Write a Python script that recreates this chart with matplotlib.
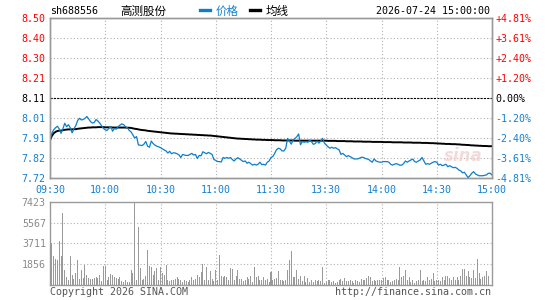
import matplotlib
matplotlib.use('Agg')
import matplotlib.pyplot as plt
import numpy as np

# ---------------- data ----------------
stock_code = "sh688556"
stock_name = "高测股份"
timestamp = "2026-07-24 15:00:00"
prev_close = 8.11
y_low, y_high = 7.72, 8.50
vol_max = 7423

time_labels = ["09:30", "10:00", "10:30", "11:00", "11:30", "13:30", "14:00", "14:30", "15:00"]
price_labels = ["8.50", "8.40", "8.30", "8.21", "8.11", "8.01", "7.91", "7.82", "7.72"]
pct_labels = ["+4.81%", "+3.61%", "+2.40%", "+1.20%", "0.00%", "-1.20%", "-2.40%", "-3.61%", "-4.81%"]
vol_labels = ["7423", "5567", "3711", "1856"]

price = [
    7.905, 7.938, 7.955, 7.965, 7.972, 7.960, 7.938, 7.960, 7.987, 7.970,
    7.980, 7.965, 7.940, 7.960, 7.975, 8.000, 8.011, 8.003, 8.005, 8.011,
    8.020, 8.008, 7.995, 7.988, 7.990, 8.005, 7.998, 7.988, 7.975, 7.962,
    7.955, 7.952, 7.962, 7.970, 7.948, 7.962, 7.958, 7.970, 7.978, 7.984,
    7.980, 7.970, 7.965, 7.952, 7.945, 7.930, 7.915, 7.922, 7.881, 7.880,
    7.878, 7.885, 7.898, 7.875, 7.870, 7.900, 7.888, 7.880, 7.875, 7.872,
    7.868, 7.862, 7.857, 7.852, 7.842, 7.850, 7.838, 7.843, 7.842, 7.838,
    7.833, 7.820, 7.835, 7.832, 7.830, 7.830, 7.835, 7.840, 7.832, 7.835,
    7.815, 7.830, 7.828, 7.848, 7.843, 7.838, 7.845, 7.840, 7.835, 7.810,
    7.806, 7.800, 7.800, 7.798, 7.820, 7.816, 7.820, 7.816, 7.820, 7.810,
    7.803, 7.813, 7.819, 7.813, 7.806, 7.800, 7.803, 7.792, 7.797, 7.790,
    7.783, 7.787, 7.783, 7.787, 7.797, 7.785, 7.787, 7.783, 7.797, 7.803,
    7.820, 7.825, 7.840, 7.858, 7.865, 7.862, 7.852, 7.852, 7.865, 7.913,
    7.900, 7.885, 7.905, 7.913, 7.921, 7.935, 7.882, 7.898, 7.894, 7.897,
    7.894, 7.905, 7.897, 7.884, 7.888, 7.900, 7.890, 7.900, 7.913, 7.890,
    7.881, 7.872, 7.865, 7.870, 7.865, 7.868, 7.862, 7.857, 7.835, 7.840,
    7.832, 7.824, 7.829, 7.824, 7.819, 7.813, 7.813, 7.813, 7.816, 7.821,
    7.821, 7.816, 7.813, 7.811, 7.803, 7.797, 7.813, 7.803, 7.800, 7.797,
    7.797, 7.800, 7.800, 7.800, 7.797, 7.787, 7.783, 7.787, 7.790, 7.787,
    7.782, 7.783, 7.790, 7.803, 7.797, 7.803, 7.808, 7.812, 7.800, 7.797,
    7.803, 7.808, 7.820, 7.803, 7.787, 7.790, 7.787, 7.792, 7.797, 7.800,
    7.797, 7.783, 7.787, 7.780, 7.783, 7.787, 7.775, 7.780, 7.775, 7.770,
    7.772, 7.767, 7.759, 7.755, 7.745, 7.748, 7.735, 7.722, 7.731, 7.743,
    7.751, 7.740, 7.735, 7.731, 7.731, 7.731, 7.733, 7.735, 7.743, 7.743,
    7.735,
]

avg_price = [
    7.905, 7.925, 7.938, 7.945, 7.949, 7.951, 7.951, 7.953, 7.955, 7.956,
    7.957, 7.957, 7.957, 7.958, 7.958, 7.960, 7.961, 7.962, 7.963, 7.964,
    7.965, 7.966, 7.966, 7.967, 7.967, 7.967, 7.968, 7.968, 7.968, 7.968,
    7.967, 7.967, 7.967, 7.967, 7.966, 7.966, 7.966, 7.966, 7.966, 7.966,
    7.966, 7.966, 7.965, 7.965, 7.964, 7.962, 7.960, 7.959, 7.957, 7.955,
    7.954, 7.953, 7.952, 7.950, 7.949, 7.948, 7.947, 7.946, 7.945, 7.944,
    7.943, 7.942, 7.941, 7.940, 7.939, 7.938, 7.937, 7.937, 7.936, 7.936,
    7.935, 7.935, 7.934, 7.934, 7.933, 7.933, 7.932, 7.932, 7.931, 7.931,
    7.930, 7.930, 7.929, 7.929, 7.928, 7.928, 7.927, 7.927, 7.926, 7.925,
    7.924, 7.923, 7.922, 7.921, 7.920, 7.919, 7.918, 7.917, 7.916, 7.915,
    7.914, 7.913, 7.912, 7.912, 7.911, 7.911, 7.910, 7.910, 7.909, 7.909,
    7.908, 7.908, 7.907, 7.907, 7.907, 7.906, 7.906, 7.906, 7.905, 7.905,
    7.905, 7.905, 7.904, 7.904, 7.904, 7.904, 7.903, 7.903, 7.903, 7.903,
    7.903, 7.903, 7.903, 7.902, 7.902, 7.902, 7.902, 7.902, 7.902, 7.902,
    7.902, 7.902, 7.902, 7.902, 7.902, 7.902, 7.902, 7.902, 7.902, 7.902,
    7.902, 7.901, 7.901, 7.901, 7.901, 7.901, 7.900, 7.900, 7.900, 7.900,
    7.900, 7.899, 7.899, 7.899, 7.899, 7.898, 7.898, 7.898, 7.898, 7.898,
    7.897, 7.897, 7.897, 7.897, 7.897, 7.896, 7.896, 7.896, 7.896, 7.896,
    7.896, 7.895, 7.895, 7.895, 7.895, 7.895, 7.894, 7.894, 7.894, 7.894,
    7.894, 7.894, 7.893, 7.893, 7.893, 7.893, 7.893, 7.892, 7.892, 7.892,
    7.892, 7.892, 7.891, 7.891, 7.891, 7.891, 7.890, 7.890, 7.890, 7.889,
    7.889, 7.888, 7.888, 7.887, 7.887, 7.886, 7.886, 7.886, 7.885, 7.885,
    7.885, 7.884, 7.884, 7.883, 7.882, 7.882, 7.881, 7.881, 7.880, 7.879,
    7.879, 7.878, 7.878, 7.877, 7.877, 7.876, 7.876, 7.876, 7.875, 7.875,
    7.875,
]

volume = [
    710, 3726, 2600, 2336, 2188, 3933, 2543, 6447, 1360, 710,
    473, 2600, 917, 532, 1064, 2247, 532, 1360, 621, 1804,
    917, 621, 532, 532, 621, 710, 621, 917, 380, 1715,
    1715, 473, 710, 1005, 917, 710, 621, 532, 710, 325,
    296, 414, 250, 300, 1300, 1064, 7423, 414, 5205, 1537,
    473, 532, 828, 3075, 1715, 1596, 917, 1212, 1478, 414,
    1596, 1064, 917, 1804, 414, 325, 473, 414, 532, 710,
    532, 473, 300, 414, 325, 300, 414, 710, 473, 532,
    917, 710, 1123, 1893, 414, 1596, 473, 1212, 532, 380,
    1301, 414, 2691, 828, 710, 769, 710, 473, 1478, 1419,
    473, 828, 1360, 532, 532, 325, 473, 710, 532, 769,
    300, 1596, 710, 828, 473, 414, 710, 414, 532, 300,
    1123, 414, 532, 621, 1212, 414, 473, 325, 414, 1360,
    2247, 3046, 680, 680, 1360, 532, 828, 325, 828, 237,
    621, 237, 414, 237, 473, 325, 414, 325, 1597, 177,
    237, 473, 414, 237, 325, 177, 237, 473, 532, 325,
    621, 325, 325, 473, 325, 177, 414, 325, 237, 532,
    414, 414, 621, 769, 710, 325, 414, 325, 414, 414,
    414, 621, 710, 414, 473, 237, 325, 414, 532, 414,
    1597, 710, 828, 1301, 414, 710, 237, 414, 177, 325,
    414, 1360, 325, 473, 325, 710, 414, 532, 1065, 325,
    414, 473, 325, 710, 414, 769, 769, 621, 414, 710,
    414, 710, 414, 828, 1420, 1420, 828, 1212, 710, 621,
    1301, 621, 2307, 1065, 532, 710, 769, 1242, 769, 0,
    0,
]

# ---------------- style ----------------
W, H = 545, 300
BLUE = '#0a7fcc'
BLUE_TXT = '#1580d0'
RED = '#ff0000'
GRAY = '#9a9a9a'
GRID = '#b0b0b0'
MONO = ['DejaVu Sans Mono']
CJK = ['Noto Sans CJK SC', 'DejaVu Sans']
FS = 7.2

fig = plt.figure(figsize=(W / 100, H / 100), dpi=100)
fig.patch.set_facecolor('white')


def fx(x):
    return x / W


def fy(y):
    return 1 - y / H


left, right = 50, 492
ax = fig.add_axes([fx(left), fy(178), fx(right) - fx(left), fy(18) - fy(178)])
axv = fig.add_axes([fx(left), fy(285), fx(right) - fx(left), fy(201.7) - fy(285)])

minutes = np.arange(len(price))
n_min = len(price) - 1
xticks = np.linspace(0, n_min, len(time_labels))
pticks = np.linspace(y_high, y_low, len(price_labels))

# --- main price panel
for t in pticks[1:-1]:
    if abs(t - prev_close) < 1e-6:
        ax.axhline(t, color='black', lw=0.8, ls=(0, (2, 1)), zorder=1)
    else:
        ax.axhline(t, color=GRID, lw=0.8, ls=(0, (1, 2)), zorder=1)
for t in xticks[1:-1]:
    ax.axvline(t, color=GRID, lw=0.8, ls=(0, (1, 2)), zorder=1)

ax.plot(minutes, avg_price, color='black', lw=1.4, zorder=3)
ax.plot(minutes, price, color=BLUE, lw=0.9, zorder=4)
ax.set_xlim(0, n_min)
ax.set_ylim(y_low, y_high)

# faint watermark (axes-fraction position)
ax.text(0.936, 0.14, 'sina', transform=ax.transAxes, fontsize=12, fontweight='bold',
        fontstyle='italic', color='#f0cccc', alpha=0.7, ha='center', va='center', zorder=2)

ax.set_xticks(xticks)
ax.set_xticklabels(time_labels, family=MONO, fontsize=FS, color=BLUE_TXT)
ax.set_yticks(pticks)
ax.set_yticklabels(price_labels, family=MONO, fontsize=FS)
ax.tick_params(axis='both', length=0)
ax.tick_params(axis='x', pad=5)
ax.tick_params(axis='y', pad=3)
lab_colors = [RED] * 4 + ['black'] + [BLUE_TXT] * 4
for lab, c in zip(ax.get_yticklabels(), lab_colors):
    lab.set_color(c)

ax2 = ax.twinx()
ax2.set_ylim(y_low, y_high)
ax2.set_yticks(pticks)
ax2.set_yticklabels(pct_labels, family=MONO, fontsize=FS)
ax2.tick_params(axis='y', length=0, pad=2.5)
for lab, c in zip(ax2.get_yticklabels(), lab_colors):
    lab.set_color(c)

for a in (ax, ax2):
    for s in a.spines.values():
        s.set_color(GRAY)
        s.set_linewidth(1.0)

# --- volume panel
vticks = np.linspace(vol_max, 0, len(vol_labels) + 1)
for t in vticks[1:-1]:
    axv.axhline(t, color=GRID, lw=0.8, ls=(0, (1, 2)), zorder=1)
for t in xticks[1:-1]:
    axv.axvline(t, color=GRID, lw=0.8, ls=(0, (1, 2)), zorder=1)
axv.bar(minutes, volume, width=0.55, color=GRAY, linewidth=0, zorder=2)
axv.set_xlim(0, n_min)
axv.set_ylim(0, vol_max)
axv.set_xticks([])
axv.set_yticks(vticks[:-1])
axv.set_yticklabels(vol_labels, family=MONO, fontsize=FS, color='#8a8a8a')
axv.tick_params(axis='y', length=0, pad=3)
for s in axv.spines.values():
    s.set_color(GRAY)
    s.set_linewidth(1.0)

# --- header
fig.text(fx(50), fy(11.5), stock_code, family=MONO, fontsize=FS, color='black', va='center', ha='left')
fig.text(fx(120), fy(11), stock_name, family=CJK, fontsize=8.3, color='black', va='center', ha='left')
fig.add_artist(plt.Line2D([fx(200), fx(210)], [fy(9.8), fy(9.8)], color=BLUE, lw=2.4))
fig.text(fx(216), fy(11), '价格', family=CJK, fontsize=8.3, color=BLUE_TXT, va='center', ha='left')
fig.add_artist(plt.Line2D([fx(250), fx(260)], [fy(9.8), fy(9.8)], color='black', lw=2.4))
fig.text(fx(266), fy(11), '均线', family=CJK, fontsize=8.3, color='black', va='center', ha='left')
fig.text(fx(490), fy(11.5), timestamp, family=MONO, fontsize=FS, color='black', va='center', ha='right')

# --- footer
fig.text(fx(50), fy(292), 'Copyright 2026 SINA.COM', family=MONO, fontsize=FS, color='#555555',
         va='center', ha='left')
fig.text(fx(491), fy(292), 'http://finance.sina.com.cn', family=MONO, fontsize=FS, color='#555555',
         va='center', ha='right')

fig.savefig('out.png', dpi=100, facecolor='white')
